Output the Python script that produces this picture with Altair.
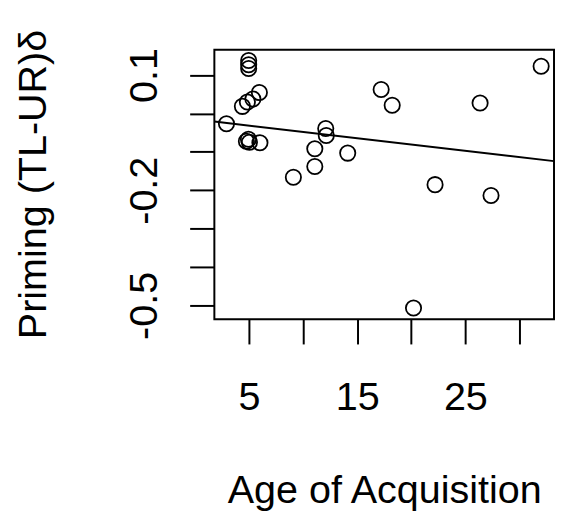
import altair as alt
import pandas as pd

# Data
aoa = [4.98, 4.98, 4.98, 4.40, 4.86, 5.37, 5.97, 2.93, 4.77, 5.05, 4.96, 6.02,
       12.10, 12.15, 11.09, 11.09, 14.13, 9.11,
       17.22, 18.24, 26.36, 32.0, 22.2, 27.37, 20.21]
priming = [0.138, 0.127, 0.117, 0.0185, 0.030, 0.0377, 0.0544, -0.027, -0.0726, -0.0751, -0.0674, -0.0764,
           -0.0392, -0.0572, -0.0918, -0.138, -0.1033, -0.166,
           0.0626, 0.0215, 0.0274, 0.1230, -0.1854, -0.2136, -0.5067]

# fitted line (abline) coefficients
fit_intercept = -0.0153
fit_slope = -0.00328

x_domain = [1.81, 33.19]
y_domain = [-0.536, 0.166]
x_ticks = [5, 10, 15, 20, 25, 30]
y_ticks = [-0.5, -0.4, -0.3, -0.2, -0.1, 0.0, 0.1]

pts = pd.DataFrame({"aoa": aoa, "priming": priming})
line_df = pd.DataFrame({
    "aoa": x_domain,
    "priming": [fit_intercept + fit_slope * v for v in x_domain],
})

FONT = "Liberation Sans"

xscale = alt.Scale(domain=x_domain, nice=False, zero=False)
yscale = alt.Scale(domain=y_domain, nice=False, zero=False)

xaxis = alt.Axis(
    values=x_ticks, grid=False, domain=False,
    tickSize=25, tickWidth=2, tickColor="black",
    labelFont=FONT, labelFontSize=40, labelColor="black",
    labelPadding=34, labelBaseline="top", labelAlign="center",
    labelExpr="datum.value % 10 == 5 ? datum.label : ''",
    title="Age of Acquisition", titleFont=FONT, titleFontSize=40,
    titleFontWeight="normal", titleColor="black",
    titleAlign="center", titleBaseline="alphabetic", titleX=172, titleY=186,
)
yaxis = alt.Axis(
    values=y_ticks, grid=False, domain=False,
    tickSize=25, tickWidth=2, tickColor="black",
    labelFont=FONT, labelFontSize=40, labelColor="black",
    labelAngle=270, labelAlign="center", labelBaseline="alphabetic",
    labelPadding=34,
    labelExpr="datum.value > 0.05 ? '0.1' : (abs(datum.value + 0.2) < 0.01 ? '-0.2' : (abs(datum.value + 0.5) < 0.01 ? '-0.5' : ''))",
    title="Priming (TL-UR)δ", titleFont=FONT, titleFontSize=40,
    titleFontWeight="normal", titleColor="black", titleAngle=270,
    titleAlign="center", titleBaseline="alphabetic", titleX=-171, titleY=136,
)

points = alt.Chart(pts).mark_point(
    shape="circle", filled=False, color="black", size=240, strokeWidth=1.8, opacity=1
).encode(
    x=alt.X("aoa:Q", scale=xscale, axis=xaxis),
    y=alt.Y("priming:Q", scale=yscale, axis=yaxis),
)

line = alt.Chart(line_df).mark_line(color="black", strokeWidth=2, clip=True).encode(
    x=alt.X("aoa:Q", scale=xscale),
    y=alt.Y("priming:Q", scale=yscale),
)

chart = alt.layer(points, line).properties(
    width=344, height=273,
    autosize=alt.AutoSizeParams(type="none"),
    padding={"left": 209, "top": 39, "right": 1, "bottom": 195},
    background="white",
).configure_view(stroke="black", strokeWidth=2)

chart.save("out.html", embed_options={"renderer": "svg", "actions": False})
